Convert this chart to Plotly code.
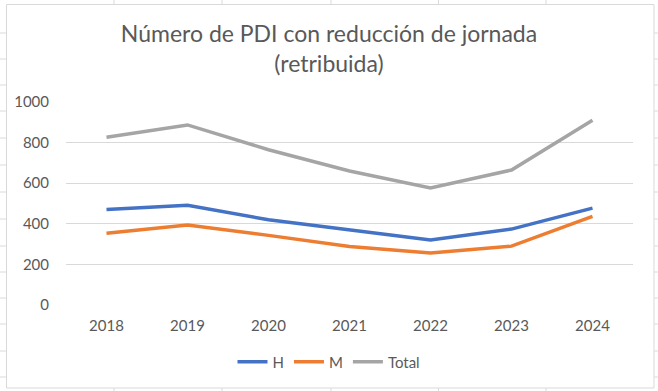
import plotly.graph_objects as go

years = ["2018", "2019", "2020", "2021", "2022", "2023", "2024"]
h_values = [471, 491, 420, 370, 320, 374, 477]
m_values = [353, 394, 343, 288, 256, 290, 437]
total_values = [826, 887, 765, 660, 576, 665, 910]
y_ticks = [0, 200, 400, 600, 800, 1000]

W, H = 658, 391
ML, MR, MT, MB = 66, 25, 102, 86
PW, PH = W - ML - MR, H - MT - MB

def px(x):
    return (x - ML) / PW

def py(y):
    return (H - MB - y) / PH

fig = go.Figure()
fig.add_trace(go.Scatter(x=years, y=h_values, name="H", mode="lines",
                         line=dict(color="#4472C4", width=3.5)))
fig.add_trace(go.Scatter(x=years, y=m_values, name="M", mode="lines",
                         line=dict(color="#ED7D31", width=3.5)))
fig.add_trace(go.Scatter(x=years, y=total_values, name="Total", mode="lines",
                         line=dict(color="#A5A5A5", width=3.5)))

shapes = []
# chart border
shapes.append(dict(type="rect", xref="paper", yref="paper",
                   x0=px(6.5), x1=px(654), y0=py(4.5), y1=py(388),
                   line=dict(color="#d9d9d9", width=1), layer="below"))
# spreadsheet gridlines outside chart
for yy in [33, 59, 85, 111, 138, 165, 192, 219, 246, 272, 298, 324, 351, 377]:
    shapes.append(dict(type="line", xref="paper", yref="paper",
                       x0=px(0), x1=px(6.5), y0=py(yy), y1=py(yy),
                       line=dict(color="#dadada", width=1)))
    shapes.append(dict(type="line", xref="paper", yref="paper",
                       x0=px(654), x1=px(658), y0=py(yy), y1=py(yy),
                       line=dict(color="#dadada", width=1)))
for xx in [114, 222, 331, 438.5, 546]:
    shapes.append(dict(type="line", xref="paper", yref="paper",
                       x0=px(xx), x1=px(xx), y0=py(0), y1=py(4.5),
                       line=dict(color="#dadada", width=1)))
    shapes.append(dict(type="line", xref="paper", yref="paper",
                       x0=px(xx), x1=px(xx), y0=py(388), y1=py(391),
                       line=dict(color="#dadada", width=1)))

fig.update_layout(
    width=W, height=H,
    margin=dict(l=ML, r=MR, t=MT, b=MB),
    paper_bgcolor="white", plot_bgcolor="white",
    font=dict(family="Lato, 'Open Sans', sans-serif", color="#595959", size=14),
    title=dict(text="Número de PDI con reducción de jornada<br>(retribuida)",
               x=0.5, xref="container", xanchor="center",
               y=1 - 42 / H, yref="container", yanchor="top",
               font=dict(size=23, color="#595959")),
    showlegend=True,
    legend=dict(orientation="h", x=0.5, xref="container", xanchor="center",
                y=1 - 362 / H, yref="container", yanchor="middle",
                font=dict(size=15, color="#595959"),
                itemwidth=30, traceorder="normal"),
    shapes=shapes,
    xaxis=dict(type="category", range=[-0.5, 6.5], showgrid=False,
               showline=False, zeroline=False, ticks="",
               tickfont=dict(size=15, color="#595959"),
               ticklabelstandoff=10),
    yaxis=dict(range=[0, 1000], tickvals=y_ticks, showgrid=True,
               gridcolor="#d9d9d9", gridwidth=1, zeroline=False,
               showline=False, ticks="",
               tickfont=dict(size=15, color="#595959"),
               ticklabelstandoff=16),
)

fig.write_html("out.html",
               config={"displayModeBar": False},
               post_script="document.body.style.margin='0px';")
